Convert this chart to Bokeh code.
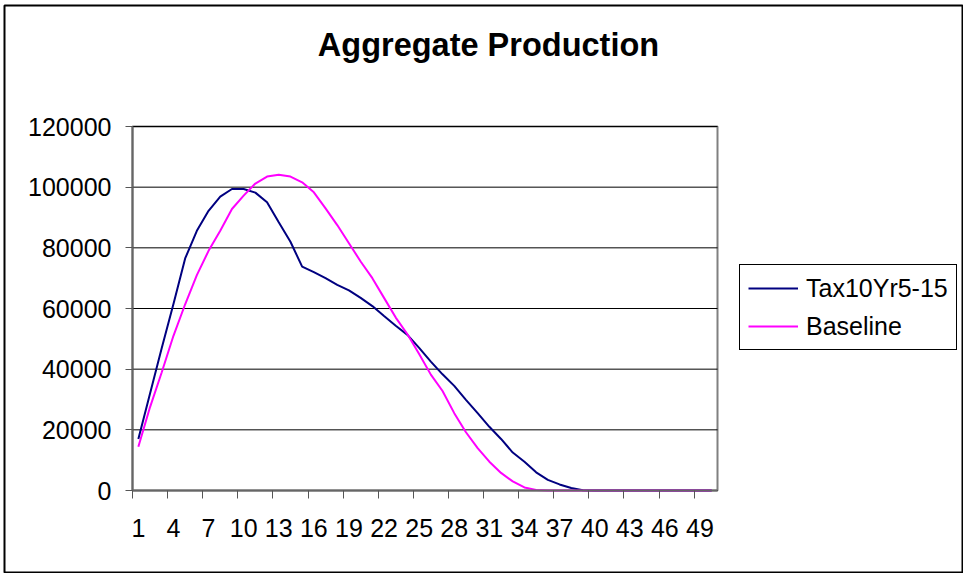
from bokeh.plotting import figure
from bokeh.models import (ColumnDataSource, FixedTicker, NumeralTickFormatter, Legend,
                          LegendItem, Range1d, Label, BoxAnnotation)
from bokeh.embed import file_html
from bokeh.resources import INLINE

# ---- data ----
periods = list(range(1, 51))
tax10yr5_15 = [17000, 32000, 47000, 61500, 76500, 85600, 92200, 96900, 99400, 99400,
               98200, 95000, 88400, 82000, 73800, 72000, 70000, 67800, 66000, 63500,
               60800, 57500, 54300, 51300, 47000, 42500, 38300, 34500, 29900, 25500,
               21000, 17000, 12500, 9500, 6000, 3500, 2000, 800, 100, 0,
               0, 0, 0, 0, 0, 0, 0, 0, 0, 0]
baseline = [14450, 27500, 39000, 51000, 61400, 71000, 79000, 85600, 92800, 97200,
            101200, 103500, 104100, 103500, 101600, 98300, 93000, 87500, 81500, 75500,
            70000, 63500, 57000, 51500, 45000, 38200, 32800, 25500, 19200, 14000,
            9500, 5800, 3000, 1000, 200, 0, 0, 0, 0, 0,
            0, 0, 0, 0, 0, 0, 0, 0, 0, 0]
x_tick_values = [1, 4, 7, 10, 13, 16, 19, 22, 25, 28, 31, 34, 37, 40, 43, 46, 49]
x_tick_labels = ["1", "4", "7", "10", "13", "16", "19", "22", "25", "28", "31", "34",
                 "37", "40", "43", "46", "49"]
y_ticks = [0, 20000, 40000, 60000, 80000, 100000, 120000]
series_names = ["Tax10Yr5-15", "Baseline"]
series_colors = ["#000080", "#FF00FF"]
title_text = "Aggregate Production"

FONT = "Liberation Sans"

# ---- layout geometry (pixels) ----
W, H = 963, 573
PL, PR, PT, PB = 132, 717, 126, 490          # plot-area box in canvas pixels
x_lo, x_hi = 0.5, len(periods) + 0.5
y_lo, y_hi = 0, 120000
sx = (x_hi - x_lo) / (PR - PL)
sy = (y_hi - y_lo) / (PB - PT)
xr = Range1d(x_lo - PL * sx, x_hi + (W - PR) * sx)
yr = Range1d(y_lo - (H - PB) * sy, y_hi + PT * sy)

src = ColumnDataSource(dict(x=periods, tax=tax10yr5_15, base=baseline))

p = figure(width=W, height=H, output_backend="svg", toolbar_location=None,
           x_range=xr, y_range=yr, min_border=0,
           background_fill_color="white", border_fill_color="white")
p.outline_line_color = None
p.grid.visible = False

# plot-area border (gray)
p.add_layout(BoxAnnotation(left=x_lo, right=x_hi, bottom=y_lo, top=y_hi,
                           fill_alpha=0, line_color="#808080", line_alpha=1.0,
                           line_width=2, level="underlay"))

# horizontal gridlines limited to the plot area
p.segment(x0=[x_lo] * len(y_ticks), x1=[x_hi] * len(y_ticks), y0=y_ticks, y1=y_ticks,
          line_color="black", line_width=1)

r1 = p.line("x", "tax", source=src, line_color=series_colors[0], line_width=2)
r2 = p.line("x", "base", source=src, line_color=series_colors[1], line_width=2)

# x axis
xa = p.xaxis[0]
xa.fixed_location = y_lo
xa.bounds = (x_lo, x_hi)
xa.ticker = FixedTicker(ticks=x_tick_values,
                        minor_ticks=[v - 0.5 for v in x_tick_values])
xa.major_label_overrides = {v: s for v, s in zip(x_tick_values, x_tick_labels)}
xa.major_tick_out = 0
xa.major_tick_in = 0
xa.minor_tick_out = 8
xa.minor_tick_in = 0
xa.minor_tick_line_color = "#555555"
xa.axis_line_color = "#666666"
xa.axis_line_width = 2
xa.major_label_standoff = 20
xa.major_label_text_font = FONT
xa.major_label_text_font_size = "25px"
xa.major_label_text_color = "black"

# y axis
ya = p.yaxis[0]
ya.fixed_location = x_lo
ya.bounds = (y_lo, y_hi)
ya.ticker = FixedTicker(ticks=y_ticks)
ya.formatter = NumeralTickFormatter(format="0")
ya.major_tick_out = 7
ya.major_tick_in = 0
ya.minor_tick_out = 0
ya.minor_tick_in = 0
ya.major_tick_line_color = "#555555"
ya.axis_line_color = "#666666"
ya.axis_line_width = 2
ya.major_label_standoff = 14
ya.major_label_text_font = FONT
ya.major_label_text_font_size = "25px"
ya.major_label_text_color = "black"

# legend
legend = Legend(items=[LegendItem(label=series_names[0], renderers=[r1]),
                       LegendItem(label=series_names[1], renderers=[r2])],
                location=(739, H - 350), margin=0, padding=8, spacing=8,
                glyph_width=50, glyph_height=30, label_height=30,
                label_standoff=8, label_text_font=FONT,
                label_text_font_size="25px", label_text_color="black",
                border_line_color="black", border_line_alpha=1.0,
                border_line_width=1, background_fill_color="white",
                background_fill_alpha=1.0)
p.add_layout(legend, "center")

# title
p.add_layout(Label(x=488, y=H - 44, x_units="screen", y_units="screen",
                   text=title_text, text_align="center", text_baseline="alphabetic",
                   text_font=FONT, text_font_style="bold", text_font_size="32.5px",
                   text_color="black"))

# outer chart border
p.add_layout(BoxAnnotation(left=4, right=962, top=H - 5, bottom=1,
                           left_units="screen", right_units="screen",
                           top_units="screen", bottom_units="screen",
                           fill_alpha=0, line_color="black", line_alpha=1.0,
                           line_width=2))

open("out.html", "w").write(file_html(p, INLINE))
